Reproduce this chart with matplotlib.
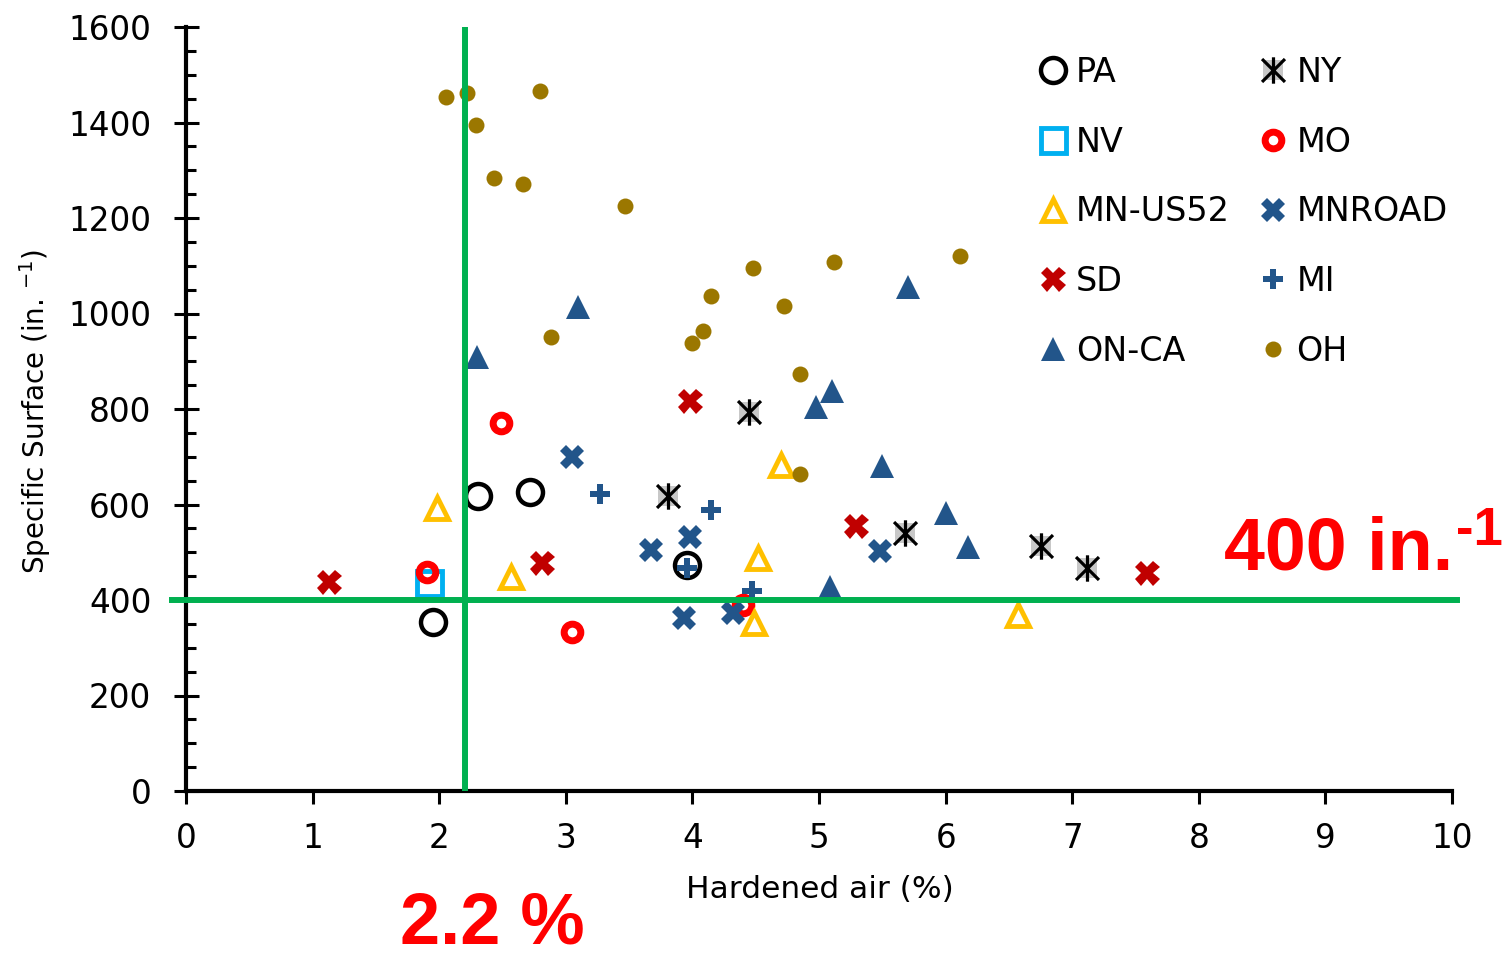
import matplotlib
matplotlib.use("Agg")
import matplotlib.pyplot as plt
from matplotlib.path import Path
from matplotlib.ticker import MultipleLocator

plt.rcParams['font.family'] = ['DejaVu Sans']

# hardened air (%) and specific surface (in.^-1) per state / project
pa_x = [2.31, 2.72, 3.96, 1.95]
pa_y = [618, 626, 474, 353]

ny_x = [4.45, 3.81, 5.68, 6.75, 7.12]
ny_y = [794, 618, 540, 513, 467]

nv_x = [1.92]
nv_y = [436]

mo_x = [2.49, 1.90, 3.05, 4.40]
mo_y = [770, 459, 333, 390]

us52_x = [1.98, 2.57, 4.70, 4.52, 4.49, 6.57]
us52_y = [592, 449, 683, 488, 352, 368]

mnroad_x = [3.05, 3.67, 3.98, 3.93, 4.32, 5.48]
mnroad_y = [699, 505, 532, 362, 372, 503]

sd_x = [1.13, 2.81, 3.98, 5.29, 7.59]
sd_y = [437, 477, 817, 555, 457]

mi_x = [3.27, 4.15, 3.96, 4.47]
mi_y = [622, 588, 467, 418]

onca_x = [2.30, 3.10, 5.70, 5.10, 4.98, 5.50, 6.00, 6.18, 5.09]
onca_y = [909, 1014, 1055, 838, 804, 681, 582, 511, 427]

oh_x = [2.05, 2.22, 2.80, 2.29, 2.43, 2.66, 3.47, 2.88, 4.48, 5.12, 6.11,
        4.15, 4.72, 4.08, 4.00, 4.85, 4.85]
oh_y = [1453, 1462, 1466, 1395, 1284, 1271, 1225, 951, 1095, 1108, 1120,
        1037, 1016, 963, 938, 873, 664]

air_limit = 2.2
surface_limit = 400

green = '#00B050'
navy = '#22558A'

# X with a vertical bar, like the spreadsheet "star" marker
star = Path([(-1, -1), (1, 1), (-1, 1), (1, -1), (0, -1.15), (0, 1.15)],
            [Path.MOVETO, Path.LINETO, Path.MOVETO, Path.LINETO,
             Path.MOVETO, Path.LINETO])

fig = plt.figure(figsize=(15.02, 9.6), dpi=100)
ax = fig.add_axes([186 / 1502, 1 - 791 / 960, 1266 / 1502, 764 / 960])

none = dict(linestyle='none')
h_pa, = ax.plot(pa_x, pa_y, marker='o', ms=18, mew=3.2, mfc='none',
                mec='black', **none)
h_nyb, = ax.plot(ny_x, ny_y, marker='s', ms=14, mew=0, mfc='#C8C8C8', **none)
h_ny, = ax.plot(ny_x, ny_y, marker=star, ms=19, mew=2.3, color='black', **none)
h_nv, = ax.plot(nv_x, nv_y, marker='s', ms=18, mew=3.5, mfc='none',
                mec='#00B0F0', **none)
h_mo, = ax.plot(mo_x, mo_y, marker='o', ms=12, mew=5, mfc='none',
                mec='#FF0000', **none)
h_mnroad, = ax.plot(mnroad_x, mnroad_y, marker='X', ms=17, mew=0,
                    color=navy, **none)
h_us52, = ax.plot(us52_x, us52_y, marker='^', ms=16, mew=3.5, mfc='none',
                  mec='#FFC000', **none)
h_sd, = ax.plot(sd_x, sd_y, marker='X', ms=18, mew=0, color='#C00000', **none)
h_mi, = ax.plot(mi_x, mi_y, marker='P', ms=14, mew=0, color=navy, **none)
h_onca, = ax.plot(onca_x, onca_y, marker='^', ms=17, mew=0, color=navy, **none)
h_oh, = ax.plot(oh_x, oh_y, marker='o', ms=11.5, mew=0, color='#9B7700', **none)

# threshold lines
ax.axvline(air_limit, color=green, lw=4.3, zorder=5)
ax.plot([-0.11, 10.04], [surface_limit, surface_limit], color=green, lw=4.3,
        zorder=5, clip_on=False)

ax.set_xlim(0, 10)
ax.set_ylim(0, 1600)
ax.xaxis.set_major_locator(MultipleLocator(1))
ax.yaxis.set_major_locator(MultipleLocator(200))
ax.yaxis.set_minor_locator(MultipleLocator(50))

for side in ('top', 'right'):
    ax.spines[side].set_visible(False)
for side in ('left', 'bottom'):
    ax.spines[side].set_linewidth(3)

ax.tick_params(axis='x', direction='out', length=9, width=2.2,
               labelsize=23.5, pad=13)
ax.tick_params(axis='y', which='major', direction='inout', length=18,
               width=2.2, labelsize=23.5, pad=16)
ax.tick_params(axis='y', which='minor', direction='in', length=7, width=2.2)

fig.text(820 / 1502, 1 - 890 / 960, 'Hardened air (%)', fontsize=22.5,
         ha='center', va='center')
fig.text(35 / 1502, 1 - 411 / 960, r'Specific Surface (in. $^{-1}$)',
         fontsize=20, ha='center', va='center', rotation=90)

handles = [h_pa, h_nv, h_us52, h_sd, h_onca,
           (h_nyb, h_ny), h_mo, h_mnroad, h_mi, h_oh]
labels = ['PA', 'NV', 'MN-US52', 'SD', 'ON-CA',
          'NY', 'MO', 'MNROAD', 'MI', 'OH']
ax.legend(handles, labels, ncol=2, loc='upper left',
          bbox_to_anchor=(0.674, 0.962), frameon=False, fontsize=24,
          borderpad=0, borderaxespad=0, handlelength=0.8, handletextpad=0.3,
          columnspacing=0.9, labelspacing=1.1, numpoints=1)

# threshold annotations
red_bold = dict(color='#FF0000', fontweight='bold', family='Liberation Sans')
fig.text(1453 / 1502, 1 - 569 / 960, '400 in.', fontsize=53, ha='right',
         va='baseline', **red_bold)
fig.text(1456 / 1502, 1 - 545 / 960, '-1', fontsize=38, ha='left',
         va='baseline', **red_bold)
fig.text(400 / 1502, 2 / 960, '2.2 %', fontsize=52, ha='left',
         va='bottom', **red_bold)

fig.savefig('out.png', dpi=100)
